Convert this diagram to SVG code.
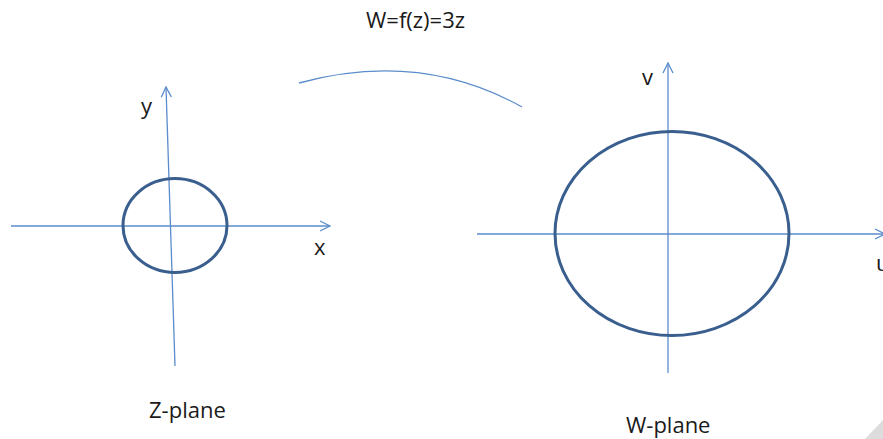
<svg xmlns="http://www.w3.org/2000/svg" width="883" height="439" viewBox="0 0 883 439">
<style>
.ax{stroke:#5b8ccb;stroke-width:1.3;fill:none}
.el{stroke:#3a5f8f;stroke-width:3;fill:none}
.t{font-family:"Open Sans","Liberation Sans",sans-serif;font-size:22px;fill:#1a1a1a}
</style>
<defs>
<marker id="ar" viewBox="0 0 12 12" refX="11" refY="6" markerWidth="12" markerHeight="12" markerUnits="userSpaceOnUse" orient="auto">
<path d="M1,1 L11,6 L1,11" fill="none" stroke="#5b8ccb" stroke-width="1.3"/>
</marker>
</defs>
<rect width="883" height="439" fill="#fff"/>
<g id="connectors">
<path class="ax" d="M299,83 Q420,50 522,107"/>
</g>
<g id="z-plane">
<line class="ax" x1="11" y1="226" x2="330" y2="226" marker-end="url(#ar)"/>
<line class="ax" x1="175" y1="366" x2="166" y2="87" marker-end="url(#ar)"/>
<ellipse class="el" cx="175" cy="225.5" rx="52" ry="47"/>
<text class="t" x="141" y="114">y</text>
<text class="t" x="314" y="255">x</text>
<text class="t" x="149" y="418">Z-plane</text>
</g>
<g id="w-plane">
<line class="ax" x1="477" y1="234" x2="885" y2="234" marker-end="url(#ar)"/>
<line class="ax" x1="668" y1="373" x2="668" y2="63" marker-end="url(#ar)"/>
<ellipse class="el" cx="672" cy="233.5" rx="117" ry="102"/>
<text class="t" x="642" y="85">v</text>
<text class="t" x="876" y="271">u</text>
<text class="t" x="626" y="433">W-plane</text>
</g>
<g id="title">
<text class="t" x="366" y="28">W=f(z)=3z</text>
</g>
<polygon points="865,439 883,420 883,439" fill="#dcdcdc"/>
</svg>
